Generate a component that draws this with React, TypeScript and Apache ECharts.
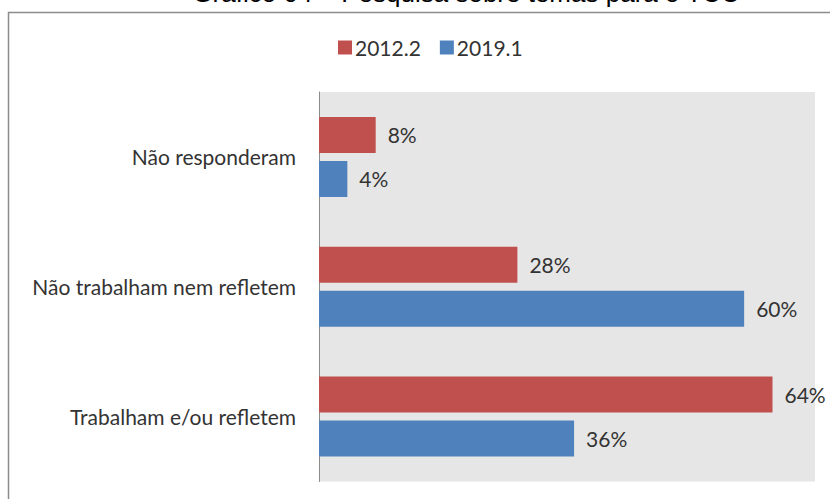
import React, { useEffect, useRef } from "react";
import * as echarts from "echarts";

const categories = ["Trabalham e/ou refletem", "Não trabalham nem refletem", "Não responderam"];
const seriesNames = ["2012.2", "2019.1"];
const values2012 = [0.64, 0.28, 0.08];
const values2019 = [0.36, 0.60, 0.04];
const titleText = "Gráfico 04 – Pesquisa sobre temas para o TCC";

const RED = "#C0504D";
const BLUE = "#4F81BD";
const TEXT = "#333333";
const FONT = "Lato, 'Open Sans', sans-serif";
const FS = 21;

export default function App() {
  const ref = useRef<HTMLDivElement>(null);
  useEffect(() => {
    document.body.style.margin = "0";
    if (!ref.current) return;
    const chart = echarts.init(ref.current, undefined, { renderer: "svg" });
    const label = {
      show: true,
      position: "right" as const,
      distance: 12,
      color: TEXT,
      fontFamily: FONT,
      fontSize: FS,
      formatter: (p: any) => Math.round(p.value * 100) + "%",
    };
    chart.setOption({
      animation: false,
      backgroundColor: "#ffffff",
      graphic: [
        {
          type: "rect",
          shape: { x: 8.5, y: 12.5, width: 1000, height: 1000 },
          style: { fill: "none", stroke: "#8c8c8c", lineWidth: 1.5 },
          z: -1,
        },
        {
          type: "text",
          x: 466,
          y: 6,
          style: {
            text: titleText,
            fill: "#000",
            font: "26px 'Liberation Sans', Arial, sans-serif",
            textAlign: "center",
            textVerticalAlign: "bottom",
          },
        },
      ],
      legend: {
        top: 32,
        left: 333,
        itemWidth: 14,
        itemHeight: 14,
        itemGap: 19,
        icon: "rect",
        textStyle: { color: TEXT, fontFamily: FONT, fontSize: FS, padding: [0, 0, 0, -2] },
        data: seriesNames,
      },
      grid: {
        left: 319,
        right: 15,
        top: 92,
        bottom: 17.5,
        show: true,
        backgroundColor: "#e6e6e6",
        borderWidth: 0,
        containLabel: false,
      },
      xAxis: {
        type: "value",
        min: 0,
        max: 0.7,
        show: false,
        splitLine: { show: false },
      },
      yAxis: {
        type: "category",
        data: categories,
        axisLine: { show: true, lineStyle: { color: "#8c8c8c", width: 1 } },
        axisTick: { show: false },
        axisLabel: { color: TEXT, fontFamily: FONT, fontSize: FS, margin: 23 },
      },
      series: [
        {
          name: seriesNames[0],
          type: "bar",
          data: values2012,
          barWidth: 36,
          barGap: "22%",
          itemStyle: { color: RED },
          label,
        },
        {
          name: seriesNames[1],
          type: "bar",
          data: values2019,
          barWidth: 36,
          barGap: "22%",
          itemStyle: { color: BLUE },
          label,
        },
      ],
    });
    return () => chart.dispose();
  }, []);
  return <div ref={ref} style={{ width: 830, height: 499 }} />;
}
